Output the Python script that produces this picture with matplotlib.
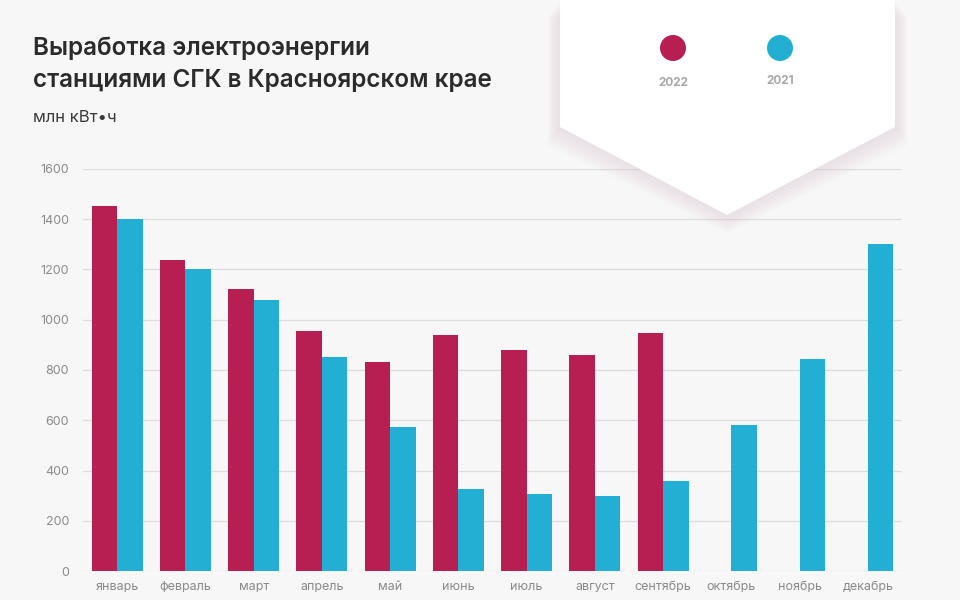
import numpy as np
import matplotlib.pyplot as plt
from matplotlib.patches import Polygon, Ellipse

# Daten
months = ['январь', 'февраль', 'март', 'апрель', 'май', 'июнь',
          'июль', 'август', 'сентябрь', 'октябрь', 'ноябрь', 'декабрь']
vals_2022 = [1453, 1238, 1122, 955, 832, 939, 880, 860, 947, np.nan, np.nan, np.nan]
vals_2021 = [1401, 1202, 1079, 852, 573, 326, 306, 298, 358, 581, 844, 1301]
yticks = [0, 200, 400, 600, 800, 1000, 1200, 1400, 1600]

c22 = '#B71F53'
c21 = '#23AED3'
bg = '#F7F7F7'

plt.rcParams['font.family'] = ['Inter', 'DejaVu Sans']

W, H = 960, 600
fig = plt.figure(figsize=(9.6, 6), dpi=100, facecolor=bg)
ax = fig.add_axes([83 / W, 29 / H, (902 - 83) / W, (571 - 169) / H])
ax.set_facecolor(bg)

x = np.arange(len(months))
w = 0.375
ax.bar(x - w / 2, vals_2022, width=w, color=c22, zorder=3)
ax.bar(x + w / 2, vals_2021, width=w, color=c21, zorder=3)

ax.set_xlim(-0.5, 11.5)
ax.set_ylim(0, 1600)
ax.set_yticks(yticks)
ax.set_xticks(x)
ax.set_xticklabels(months)
ax.tick_params(length=0, labelsize=9, labelcolor='#8a8a8a')
ax.tick_params(axis='y', pad=10)
ax.tick_params(axis='x', pad=7)
ax.grid(axis='y', color='#dcdcdc', linewidth=0.9, zorder=0)
for s in ax.spines.values():
    s.set_visible(False)

# Titel
fig.text(33 / W, 1 - 48 / H, 'Выработка электроэнергии', fontsize=17.5,
         fontweight='semibold', color='#2b2b2b', va='center')
fig.text(33 / W, 1 - 80 / H, 'станциями СГК в Красноярском крае', fontsize=17.5,
         fontweight='semibold', color='#2b2b2b', va='center')
fig.text(33 / W, 1 - 117 / H, 'млн кВт•ч', fontsize=12, color='#3a3a3a', va='center')

# Legende als weißes Banner mit weichem Schatten
pts = np.array([[560, 0], [895, 0], [895, 127], [727, 215], [560, 127]], dtype=float)
for k in range(14, 0, -1):
    sh = pts.copy()
    sh[:, 1] += k * 1.3
    sh[:, 0] += np.sign(sh[:, 0] - 727) * k * 0.9
    fig.patches.append(Polygon(np.c_[sh[:, 0] / W, 1 - sh[:, 1] / H], closed=True,
                               transform=fig.transFigure, facecolor='#e6c9d3',
                               edgecolor='none', alpha=0.03, zorder=5))
fig.patches.append(Polygon(np.c_[pts[:, 0] / W, 1 - pts[:, 1] / H], closed=True,
                           transform=fig.transFigure, facecolor='white',
                           edgecolor='none', zorder=6))

for cx, col, lab, ly in [(673, c22, '2022', 83), (780, c21, '2021', 81)]:
    fig.patches.append(Ellipse((cx / W, 1 - 48 / H), 26 / W, 26 / H,
                               transform=fig.transFigure,
                               facecolor=col, edgecolor='none', zorder=7))
    fig.text(cx / W, 1 - ly / H, lab, fontsize=8.5, fontweight='bold',
             color='#a8a8a8', ha='center', va='center', zorder=8)

plt.savefig('out.png', dpi=100, facecolor=bg)
